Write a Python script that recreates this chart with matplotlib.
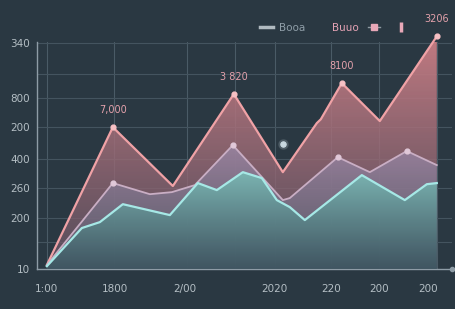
import numpy as np
import matplotlib
matplotlib.use("Agg")
import matplotlib.pyplot as plt
from matplotlib.lines import Line2D
from matplotlib.patches import PathPatch
from matplotlib.colors import to_rgb

# data
x_ticks = [0, 6.8, 13.8, 22.8, 28.4, 33.2, 38.1]
x_labels = ["1:00", "1800", "2/00", "2020", "220", "200", "200"]
y_ticks = [0, 225, 357, 485, 625, 753, 996]
y_labels = ["10", "200", "260", "400", "200", "800", "340"]

pink_x = [0, 6.6, 12.6, 18.7, 23.6, 27.0, 27.4, 29.5, 33.3, 39.0]
pink_y = [18, 625, 366, 771, 427, 643, 660, 819, 652, 1025]

mauve_x = [0, 6.6, 10.3, 12.5, 14.8, 18.6, 23.6, 24.3, 29.1, 32.3, 36.0, 39.0]
mauve_y = [18, 379, 330, 339, 370, 546, 304, 313, 493, 427, 520, 458]

teal_x = [0, 3.5, 5.3, 7.6, 12.3, 15.1, 17.0, 19.6, 21.5, 23.0, 24.3, 25.8, 31.5, 35.8, 38.0, 39.0]
teal_y = [13, 181, 207, 286, 238, 379, 348, 427, 401, 304, 273, 216, 414, 304, 374, 379]

peak_idx = [1, 3, 7, 9]
peak_labels = ["7,000", "3 820", "8100", "3206"]
mauve_marks = [1, 5, 8, 10]

bg = "#2a3842"
grid_x = [0, 6.7, 14, 18.8, 22.8, 28.4, 33.2, 39]


def gradient_fill(ax, x, y, top, bottom, a_top, a_bot, z):
    poly = ax.fill_between(x, y, 0, facecolor="none", edgecolor="none")
    path = poly.get_paths()[0]
    patch = PathPatch(path, transform=ax.transData, facecolor="none", edgecolor="none")
    ax.add_patch(patch)
    n = 256
    t = np.linspace(0, 1, n)[:, None]
    c_top = np.array(to_rgb(top))
    c_bot = np.array(to_rgb(bottom))
    rgb = c_top * (1 - t) + c_bot * t
    alpha = a_top * (1 - t) + a_bot * t
    img = np.concatenate([rgb, alpha], axis=1)[:, None, :]
    im = ax.imshow(img, extent=[min(x), max(x), 0, max(y)], aspect="auto",
                   origin="upper", zorder=z, interpolation="bilinear")
    im.set_clip_path(patch)


fig = plt.figure(figsize=(4.55, 3.09), dpi=100, facecolor=bg)
ax = fig.add_axes([0.081, 0.129, 0.912, 0.735])
ax.set_facecolor(bg)

for gx in grid_x:
    ax.axvline(gx, color="#4a5b66", lw=0.8, zorder=0)
for gy in y_ticks[1:] + [119, 860]:
    ax.axhline(gy, color="#44545f", lw=0.8, zorder=0)

gradient_fill(ax, pink_x, pink_y, "#cc7f86", "#6a5666", 0.95, 0.7, 1)
gradient_fill(ax, mauve_x, mauve_y, "#9a86a4", "#5a6070", 0.85, 0.6, 2)
gradient_fill(ax, teal_x, teal_y, "#7ab8b4", "#3a5560", 0.95, 0.8, 3)

ax.plot(pink_x, pink_y, color="#f0a2a6", lw=1.6, zorder=4, clip_on=False)
ax.plot(mauve_x, mauve_y, color="#c9aec4", lw=1.3, zorder=4)
ax.plot(teal_x, teal_y, color="#a6e8e6", lw=1.6, zorder=5)

px = [pink_x[i] for i in peak_idx]
py = [pink_y[i] for i in peak_idx]
ax.scatter(px, py, s=12, color="#f6c0c4", zorder=6, clip_on=False)
ax.scatter([mauve_x[i] for i in mauve_marks], [mauve_y[i] for i in mauve_marks],
           s=12, color="#e0c8d8", zorder=6)
ax.scatter([23.6], [551], s=14, color="#c8d8e0", zorder=6)
ax.scatter([23.6], [551], s=45, color="#c8d8e0", alpha=0.15, zorder=6)

for xx, yy, lab in zip(px, py, peak_labels):
    ax.annotate(lab, (xx, yy), xytext=(0, 9), textcoords="offset points",
                ha="center", va="bottom", fontsize=7, color="#e4a2ac",
                annotation_clip=False)

ax.set_xlim(-1, 40.5)
ax.set_ylim(0, 1000)
ax.set_xticks(x_ticks, x_labels)
ax.set_yticks(y_ticks, y_labels)
ax.tick_params(length=0, colors="#b4bec4", labelsize=7.5)
ax.tick_params(axis="x", pad=11)
ax.tick_params(axis="y", pad=5)
for s in ["top", "right"]:
    ax.spines[s].set_visible(False)
for s in ["left", "bottom"]:
    ax.spines[s].set_color("#8e9ca6")
    ax.spines[s].set_linewidth(1.0)
ax.plot([1], [0], marker="o", ms=3, color="#8e9ca6", transform=ax.transAxes, clip_on=False)

handles = [
    Line2D([], [], color="#b0bac0", lw=2.5),
    Line2D([], [], color="none"),
    Line2D([], [], color="#8e9aa2", lw=1, marker="s", ms=4, mfc="#e8a8b8", mec="#e8a8b8"),
    Line2D([], [], color="none", marker="|", ms=7, mew=2.5, mec="#e8a8b8"),
]
leg = ax.legend(handles, ["Booa", "Buuo", "", ""], loc="lower right",
                bbox_to_anchor=(0.93, 1.0), ncol=4, frameon=False, fontsize=7.5,
                handlelength=1.2, handletextpad=0.6, columnspacing=0.8)
cols = ["#8f9ea8", "#e4a2b4", "#e4a2b4", "#e4a2b4"]
for t, c in zip(leg.get_texts(), cols):
    t.set_color(c)

fig.savefig("out.png", dpi=100, facecolor=bg)
